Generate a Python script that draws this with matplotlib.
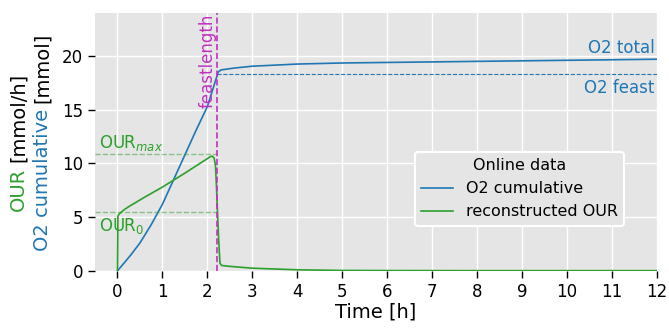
import matplotlib

matplotlib.use("Agg")
import matplotlib.pyplot as plt
import numpy as np

# O2 cumulative [mmol]
t_o2 = [0.0, 0.15, 0.3, 0.5, 0.75, 1.0, 1.25, 1.5, 1.75, 2.0, 2.24, 2.3, 2.6, 3.0, 4.0, 5.0, 6.0, 8.0, 10.0, 12.0]
o2_cum = [0.0, 0.75, 1.5, 2.6, 4.3, 6.2, 8.5, 10.8, 13.1, 15.3, 18.5, 18.7, 18.88, 19.05, 19.25, 19.35, 19.4, 19.5, 19.6, 19.7]

# reconstructed OUR [mmol/h]
t_our = [0.0, 0.01, 0.03, 0.08, 0.15, 0.25, 0.4, 0.6, 1.0, 1.5, 2.0, 2.06, 2.11, 2.15, 2.18, 2.2, 2.22, 2.25, 2.28, 2.32, 2.5, 3.0, 4.0, 5.0, 6.0, 8.0, 12.0]
our = [0.0, 5.1, 5.25, 5.45, 5.7, 5.98, 6.35, 6.85, 7.8, 9.1, 10.45, 10.62, 10.68, 10.5, 9.8, 8.0, 6.0, 3.0, 0.7, 0.5, 0.42, 0.25, 0.1, 0.04, 0.03, 0.02, 0.02]

feast_length = 2.22
our_max = 10.85
our_0 = 5.47
o2_feast = 18.3
o2_total = 19.7

blue = "#1f77b4"
green = "#2ca02c"
magenta = "#c030c0"

fig = plt.figure(figsize=(6.69, 3.34), dpi=100)
ax = fig.add_axes([0.142, 0.189, 0.840, 0.772])
ax.set_facecolor("#E5E5E5")
for s in ax.spines.values():
    s.set_visible(False)
ax.grid(True, color="white", linewidth=1.0)
ax.set_axisbelow(True)

ax.plot(t_o2, o2_cum, color=blue, lw=1.2, label="O2 cumulative")
ax.plot(t_our, our, color=green, lw=1.2, label="reconstructed OUR")

# reference lines
ax.plot([-0.5, feast_length], [our_max, our_max], "--", color=green, alpha=0.5, lw=1)
ax.plot([-0.5, feast_length], [our_0, our_0], "--", color=green, alpha=0.5, lw=1)
ax.plot([feast_length, 12], [o2_feast, o2_feast], "--", color=blue, lw=0.8)
ax.axvline(feast_length, color=magenta, ls="--", lw=1.2)

ax.text(-0.4, our_max + 0.15, r"OUR$_{max}$", color=green, fontsize=12, va="bottom", ha="left")
ax.text(-0.4, our_0 - 0.35, r"OUR$_0$", color=green, fontsize=12, va="top", ha="left")
ax.text(11.95, o2_total + 0.2, "O2 total", color=blue, fontsize=12, va="bottom", ha="right")
ax.text(11.95, o2_feast - 0.45, "O2 feast", color=blue, fontsize=12, va="top", ha="right")
ax.text(feast_length - 0.01, 23.9, "feastlength", color=magenta, fontsize=12,
        rotation=90, va="top", ha="right")

ax.set_xlim(-0.5, 12)
ax.set_ylim(0, 24)
ax.set_xticks(np.arange(0, 13, 1))
ax.set_yticks([0, 5, 10, 15, 20])
ax.tick_params(axis="both", direction="out", length=5, width=1, labelsize=12, colors="black")
ax.set_xlabel("Time [h]", fontsize=14, labelpad=1)

leg = ax.legend(title="Online data", loc="center", bbox_to_anchor=(0.755, 0.318),
                fontsize=11.5, title_fontsize=11.5, facecolor="#E5E5E5", edgecolor="white",
                framealpha=1)
leg.get_frame().set_linewidth(1.5)

# two-coloured y label, built from pieces
fig.canvas.draw()
renderer = fig.canvas.get_renderer()
W, H = fig.bbox.width, fig.bbox.height


def text_len(s):
    t = fig.text(0, 0, s, fontsize=14)
    w = t.get_window_extent(renderer).width
    t.remove()
    return w


def two_colour_label(x_px, first, first_col, rest):
    full = first + " " + rest
    total = text_len(full)
    offset = total - text_len(rest)
    y0 = H - 142 - total / 2
    fig.text(x_px / W, y0 / H, first, color=first_col, fontsize=14, rotation=90,
             rotation_mode="anchor", ha="left", va="center")
    fig.text(x_px / W, (y0 + offset) / H, rest, color="black", fontsize=14, rotation=90,
             rotation_mode="anchor", ha="left", va="center")


two_colour_label(18, "OUR", green, "[mmol/h]")
two_colour_label(42, "O2 cumulative", blue, "[mmol]")

fig.savefig("out.png", dpi=100)
